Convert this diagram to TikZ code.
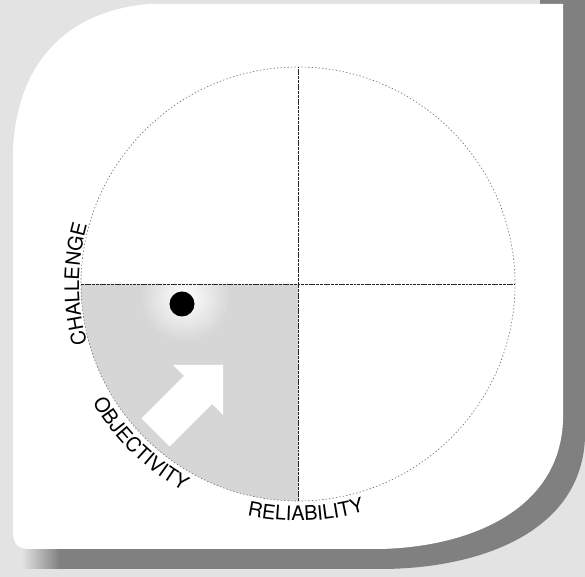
\documentclass[tikz,border=0pt]{standalone}
\usepackage{fontspec}
\setmainfont{TeX Gyre Heros}
\usetikzlibrary{decorations.text}
\definecolor{bgcol}{gray}{0.89}
\definecolor{quadcol}{gray}{0.84}
\definecolor{shadowcol}{gray}{0.5}
\newcommand\lblfont{\fontsize{15}{18}\selectfont}
\begin{document}
\begin{tikzpicture}[x=0.75pt,y=0.75pt,
  circ/.style={draw=black!55,line width=0.5pt,dash pattern=on 1pt off 1.6pt},
  axisline/.style={draw=black!85,line width=0.55pt,dash pattern=on 2.2pt off 0.6pt},
  arclabel/.style={decorate,decoration={text along path,text align=center,text={|\lblfont|#1}}}]
\useasboundingbox (0,0) rectangle (585,577);
% background
\fill[bgcol] (0,0) rectangle (585,577);
% shadow band
\fill[shadowcol] (585,577) -- (585,140) .. controls (582,45) and (480,8) .. (380,8) -- (60,8) -- (60,300) -- (540,300) -- (540,577) -- cycle;
\shade[left color=bgcol,right color=shadowcol] (22,8) rectangle (60,30);
% white card
\fill[white] (150,573) -- (563,573) -- (563,157) .. controls (560,67) and (470,30) .. (380,28) -- (30,28) .. controls (18,28) and (13,33) .. (13,45) -- (13,427) .. controls (17,517) and (70,567) .. (150,573) -- cycle;
% centre
\coordinate (C) at (298,293);
% shaded quadrant
\fill[quadcol] (C) -- ++(-217,0) arc[start angle=180,end angle=270,radius=217] -- cycle;
\begin{scope}
  \clip (C) -- ++(-217,0) arc[start angle=180,end angle=270,radius=217] -- cycle;
  \shade[inner color=white,outer color=quadcol] (185,280) circle[radius=45];
\end{scope}
% arrow
\fill[white] (223,212) -- (173,212) -- (183.9,201.1) -- (141.5,158.7) -- (169.7,130.5) -- (212.1,172.9) -- (223,162) -- cycle;
% dot
\fill[black] (182,273) circle[radius=12.5];
% circle and axes
\draw[circ] (C) circle[radius=217];
\draw[axisline] (298,76) -- (298,510);
\draw[axisline] (81,293) -- (515,293);
% labels
\path[arclabel=CHALLENGE] (C) ++(215:219) arc[start angle=215,end angle=145,radius=219];
\path[arclabel=OBJECTIVITY] (C) ++(195:237) arc[start angle=195,end angle=256,radius=237];
\path[arclabel=RELIABILITY] (C) ++(252:237) arc[start angle=252,end angle=292,radius=237];
\end{tikzpicture}
\end{document}
